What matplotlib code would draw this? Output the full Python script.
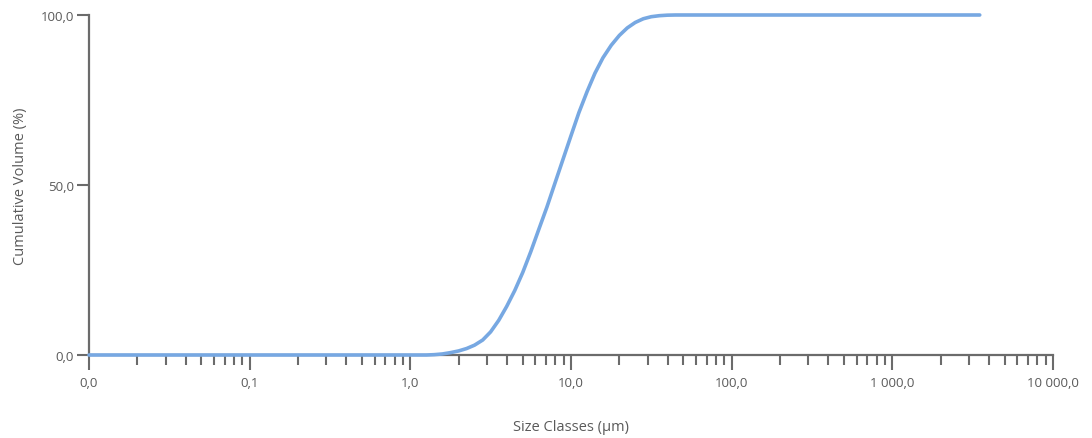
import matplotlib
matplotlib.use("Agg")
import matplotlib.pyplot as plt
from matplotlib.ticker import FixedLocator, LogLocator, FuncFormatter, NullFormatter

# Particle size (µm) and cumulative volume (%)
size_um = [0.01, 0.1, 1.0, 1.26, 1.41, 1.58, 1.78, 2.0, 2.24, 2.51, 2.82, 3.16,
           3.55, 3.98, 4.47, 5.01, 5.62, 6.31, 7.08, 7.94, 8.91, 10.0, 11.2,
           12.6, 14.1, 15.8, 17.8, 20.0, 22.4, 25.1, 28.2, 31.6, 35.5, 39.8,
           44.7, 100.0, 1000.0, 3500.0]
cumulative_pct = [0.0, 0.0, 0.0, 0.0, 0.1, 0.3, 0.7, 1.2, 1.9, 2.9, 4.4, 6.8,
                  10.2, 14.3, 19.0, 24.3, 30.4, 37.0, 43.5, 50.5, 57.5, 64.5, 71.3,
                  77.5, 82.9, 87.4, 91.1, 94.0, 96.2, 97.8, 98.9, 99.5, 99.8, 99.95,
                  100.0, 100.0, 100.0, 100.0]

x_ticks = [0.01, 0.1, 1.0, 10.0, 100.0, 1000.0, 10000.0]
y_ticks = [0.0, 50.0, 100.0]

x_title = "Size Classes (µm)"
y_title = "Cumulative Volume (%)"

axis_grey = "#6b6b6b"
text_grey = "#5a5a5a"
line_blue = "#77a8e2"


def comma_decimal(v, pos=None):
    s = f"{v:,.1f}"
    return s.replace(",", " ").replace(".", ",")


plt.rcParams["font.family"] = ["Open Sans", "DejaVu Sans"]

fig = plt.figure(figsize=(10.92, 4.39), dpi=100)
ax = fig.add_axes([89 / 1092, 1 - 356 / 439, (1053 - 89) / 1092, (356 - 16) / 439])

ax.plot(size_um, cumulative_pct, color=line_blue, lw=2.6, solid_capstyle="round",
        clip_on=False, zorder=3)

ax.set_xscale("log")
ax.set_xlim(0.01, 10000)
ax.set_ylim(0, 100)

ax.xaxis.set_major_locator(FixedLocator(x_ticks))
ax.xaxis.set_major_formatter(FuncFormatter(comma_decimal))
ax.xaxis.set_minor_locator(LogLocator(base=10, subs=range(2, 10), numticks=20))
ax.xaxis.set_minor_formatter(NullFormatter())
ax.yaxis.set_major_locator(FixedLocator(y_ticks))
ax.yaxis.set_major_formatter(FuncFormatter(comma_decimal))
ax.yaxis.set_minor_locator(FixedLocator([]))

for side in ("top", "right"):
    ax.spines[side].set_visible(False)
for side in ("left", "bottom"):
    ax.spines[side].set_color(axis_grey)
    ax.spines[side].set_linewidth(1.6)

ax.tick_params(axis="x", which="major", direction="out", length=11, width=1.5,
               color=axis_grey, labelcolor=text_grey, labelsize=9.5, pad=4)
ax.tick_params(axis="x", which="minor", direction="out", length=7.5, width=1.5,
               color=axis_grey)
ax.tick_params(axis="y", which="major", direction="out", length=9, width=1.5,
               color=axis_grey, labelcolor=text_grey, labelsize=9.5, pad=2)

ax.set_xlabel(x_title, color=text_grey, fontsize=10.5, labelpad=22)
ax.set_ylabel(y_title, color=text_grey, fontsize=10.5, labelpad=9)

fig.savefig("out.png", dpi=100, facecolor="white")
